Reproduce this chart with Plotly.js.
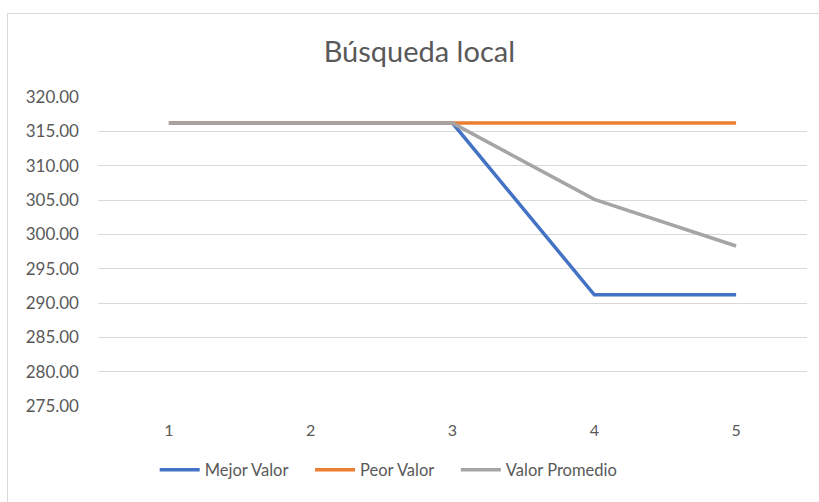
<!DOCTYPE html>
<html>
<head>
<meta charset="utf-8">
<script src="https://cdn.plot.ly/plotly-3.0.1.min.js"></script>
<style>
html,body{margin:0;padding:0;background:#fff;overflow:hidden;}
#wrap{position:absolute;left:0;top:0;width:819px;height:502px;overflow:hidden;}
#frame{position:absolute;left:7px;top:13px;width:830px;height:520px;border-left:1px solid #D9D9D9;border-top:1px solid #D9D9D9;pointer-events:none;}
#chart{position:absolute;left:0;top:0;width:819px;height:502px;}
</style>
</head>
<body>
<div id="wrap"><div id="chart"></div><div id="frame"></div></div>
<script>
const categories = [1, 2, 3, 4, 5];
const mejorValor = [316.2, 316.2, 316.2, 291.2, 291.2];
const peorValor = [316.2, 316.2, 316.2, 316.2, 316.2];
const valorPromedio = [316.2, 316.2, 316.2, 305.1, 298.3];
const yTicks = [275, 280, 285, 290, 295, 300, 305, 310, 315, 320];
const seriesNames = ['Mejor Valor', 'Peor Valor', 'Valor Promedio'];

const FONT = 'Lato, "Open Sans", sans-serif';
const pad = '\u00A0\u00A0\u00A0\u00A0';
const traces = [
  {x: categories, y: mejorValor, name: seriesNames[0] + pad, mode: 'lines', line: {color: '#4472C4', width: 3.5}},
  {x: categories, y: peorValor, name: seriesNames[1] + pad, mode: 'lines', line: {color: '#ED7D31', width: 3.5}},
  {x: categories, y: valorPromedio, name: seriesNames[2], mode: 'lines', line: {color: '#A5A5A5', width: 3.5}}
];
const layout = {
  width: 819, height: 502,
  margin: {l: 98, r: 12, t: 97, b: 96},
  paper_bgcolor: 'rgba(0,0,0,0)', plot_bgcolor: 'rgba(0,0,0,0)',
  font: {family: FONT, color: '#595959', size: 16},
  title: {text: 'Búsqueda local', font: {family: FONT, size: 29, color: '#595959'},
          x: 0.512, xref: 'container', xanchor: 'center', y: 0.896, yref: 'container', yanchor: 'middle'},
  xaxis: {range: [0.5, 5.5], tickvals: categories, ticktext: categories.map(String),
          showgrid: false, zeroline: false, showline: false, ticks: '',
          tickfont: {size: 16, color: '#595959'}, ticklabelstandoff: 13},
  yaxis: {range: [275, 320], tickvals: yTicks, tickformat: '.2f',
          showgrid: true, gridcolor: '#D9D9D9', gridwidth: 1, zeroline: false, showline: false, ticks: '',
          tickfont: {size: 17, color: '#595959'}, ticklabelstandoff: 18},
  showlegend: true,
  legend: {orientation: 'h', x: 0.41, xref: 'paper', xanchor: 'center', y: -0.207, yanchor: 'middle',
           font: {size: 16.5, color: '#595959'}, itemwidth: 40, tracegroupgap: 0},
  hovermode: false
};
Plotly.newPlot('chart', traces, layout, {displayModeBar: false, staticPlot: true});
</script>
</body>
</html>
